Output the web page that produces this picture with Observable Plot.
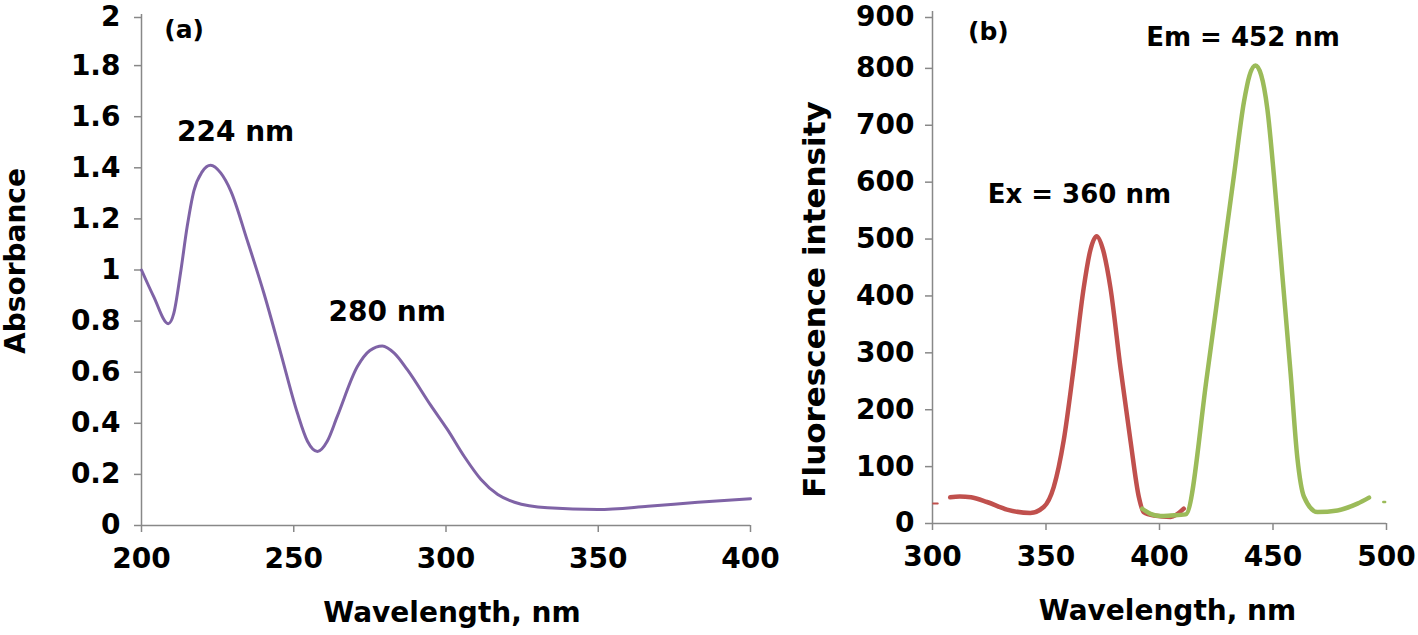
<!DOCTYPE html>
<html>
<head>
<meta charset="utf-8">
<script src="https://cdn.jsdelivr.net/npm/d3@7"></script>
<script src="https://cdn.jsdelivr.net/npm/@observablehq/plot@0.6"></script>
<style>
  html, body { margin: 0; padding: 0; background: white; }
  #wrap { display: flex; flex-wrap: nowrap; width: 1418px; height: 635px; overflow: hidden; }
  #wrap svg { max-width: none; flex: none; }
</style>
</head>
<body>
<div id="wrap"></div>
<script>
// ---------- Panel (a): UV-Vis absorbance ----------
const absWavelength = [200, 204, 208.8, 210.6, 212.8, 215, 217.2, 219.9, 222.7, 226, 229.3, 234.7, 240.2, 245.7, 251.2, 254.5, 257.8, 261, 264.3, 270.9, 275, 279.1, 283, 287.3, 295, 300.5, 306, 311.5, 317, 322.5, 333.4, 349.8, 366.3, 382.7, 400];
const absValue      = [1.0, 0.896, 0.79, 0.83, 0.987, 1.17, 1.31, 1.384, 1.41, 1.38, 1.31, 1.117, 0.909, 0.676, 0.44, 0.33, 0.29, 0.33, 0.427, 0.622, 0.685, 0.703, 0.675, 0.61, 0.47, 0.375, 0.27, 0.18, 0.121, 0.091, 0.069, 0.0625, 0.075, 0.091, 0.105];
const absXTicks = [200, 250, 300, 350, 400];
const absYTicks = [0, 0.2, 0.4, 0.6, 0.8, 1, 1.2, 1.4, 1.6, 1.8, 2];
const absNotes = ["(a)", "224 nm", "280 nm"];
const absNoteX = [214, 230.9, 280.7];
const absNoteY = [1.94, 1.54, 0.837];
const absNoteSize = [25, 28, 28];

// ---------- Panel (b): fluorescence ----------
const exWavelength = [307.8, 312, 317, 324, 332.8, 343.1, 349, 353.4, 357.8, 362.2, 366.6, 369.5, 372.3, 375.2, 378.4, 382.8, 387.2, 390.9, 393, 397.5, 404.9, 410.7];
const exIntensity  = [46, 47.5, 46, 37.8, 24.5, 18.6, 29, 64, 146, 274, 414, 480, 505, 480, 414, 274, 146, 46.6, 20, 14, 11.6, 26];
const exStubWavelength = [300.3, 302.3];
const exStubIntensity  = [35, 35];
const emWavelength = [392.4, 396, 400.5, 405, 411.5, 421, 426.9, 432.8, 437.2, 439.6, 442.3, 444.8, 447.5, 450.4, 454.1, 457.8, 460.7, 463.7, 469.6, 478.4, 487.2, 492.3];
const emIntensity  = [26, 17, 13, 14, 16, 262, 437, 612, 741, 787, 805, 788, 729, 612, 437, 262, 116.6, 46.6, 20, 23, 35, 45.5];
const emStubWavelength = [498.6, 499.4];
const emStubIntensity  = [38, 38];
const flXTicks = [300, 350, 400, 450, 500];
const flYTicks = [0, 100, 200, 300, 400, 500, 600, 700, 800, 900];
const flNotes = ["(b)", "Em = 452 nm", "Ex = 360 nm"];
const flNoteX = [324.6, 436.8, 364.7];
const flNoteY = [863.6, 854.6, 577.5];
const flNoteSize = [25, 26, 26];

const toRows = (xs, ys) => xs.map((x, i) => ({x, y: ys[i]}));
const noteRows = (t, xs, ys, s) => t.map((text, i) => ({text, x: xs[i], y: ys[i], size: s[i]}));

const FONT = "DejaVu Sans";
const GRAY = "#888888";
const PURPLE = "#7F63A6";
const RED = "#C0504D";
const GREEN = "#9BBB59";

const baseStyle = {fontFamily: FONT, fontWeight: "bold", background: "white", overflow: "visible", color: "black"};

function panel({width, marginLeft, marginRight, marginTop, marginBottom, xDomain, yDomain, xTicks, yTicks, yFormat, yPad, topNudge, series, notes, xTitle, yTitle, yTitleSize, xTitleDx, yTitleDx, yTitleDy}) {
  const lowTicks = yTicks.slice(0, -1);
  const topTick = yTicks.slice(-1);
  const textOpts = {tickSize: 7, tickPadding: yPad, tickFormat: yFormat, label: null, fill: "black", fontSize: 28, fontWeight: "bold"};
  const marks = [
    Plot.ruleX([xDomain[0]], {y1: yDomain[0], y2: yDomain[1], stroke: GRAY, strokeWidth: 1.5}),
    Plot.ruleY([yDomain[0]], {x1: xDomain[0], x2: xDomain[1], stroke: GRAY, strokeWidth: 1.5}),
    Plot.axisY({ticks: lowTicks, ...textOpts, stroke: GRAY, strokeWidth: 1.5}),
    Plot.axisY({ticks: topTick, ...textOpts, stroke: GRAY, strokeWidth: 1.5, dy: topNudge}),
    Plot.axisX({ticks: xTicks, tickSize: 7, tickPadding: 16, label: null,
                stroke: GRAY, strokeWidth: 1.5, fill: "black", fontSize: 28, fontWeight: "bold"}),
    ...series.map(s => Plot.line(s.rows, {x: "x", y: "y", stroke: s.color, strokeWidth: s.width, curve: "monotone-x"})),
    ...notes.map(n => Plot.text([n], {x: "x", y: "y", text: "text", fontSize: n.size, fontWeight: "bold", fill: "black"})),
    Plot.text([xTitle], {frameAnchor: "bottom", textAnchor: "middle", dy: 96, dx: xTitleDx, fontSize: 28, fontWeight: "bold", fill: "black"}),
    Plot.text([yTitle], {frameAnchor: "left", textAnchor: "middle", dx: yTitleDx, dy: yTitleDy, rotate: -90, fontSize: yTitleSize, fontWeight: "bold", fill: "black"})
  ];
  return Plot.plot({
    width, height: 635,
    marginLeft, marginRight, marginTop, marginBottom,
    style: baseStyle,
    x: {domain: xDomain, label: null},
    y: {domain: yDomain, label: null},
    marks
  });
}

const a = panel({
  width: 780, marginLeft: 141, marginRight: 30, marginTop: 14, marginBottom: 110,
  xDomain: [200, 400], yDomain: [0, 2],
  xTicks: absXTicks, yTicks: absYTicks, yFormat: d => String(+d.toFixed(1)), yPad: 14, topNudge: 3,
  series: [{rows: toRows(absWavelength, absValue), color: PURPLE, width: 3}],
  notes: noteRows(absNotes, absNoteX, absNoteY, absNoteSize),
  xTitle: "Wavelength, nm", yTitle: "Absorbance", yTitleSize: 28, xTitleDx: 6, yTitleDx: -125, yTitleDy: -9
});

const b = panel({
  width: 638, marginLeft: 152, marginRight: 32, marginTop: 11, marginBottom: 112,
  xDomain: [300, 500], yDomain: [0, 900],
  xTicks: flXTicks, yTicks: flYTicks, yFormat: d => String(d), yPad: 11, topNudge: 6,
  series: [
    {rows: toRows(exStubWavelength, exStubIntensity), color: RED, width: 2},
    {rows: toRows(exWavelength, exIntensity), color: RED, width: 4.5},
    {rows: toRows(emWavelength, emIntensity), color: GREEN, width: 4.5},
    {rows: toRows(emStubWavelength, emStubIntensity), color: GREEN, width: 2.5}
  ],
  notes: noteRows(flNotes, flNoteX, flNoteY, flNoteSize),
  xTitle: "Wavelength, nm", yTitle: "Fluorescence intensity", yTitleSize: 31, xTitleDx: 8, yTitleDx: -117, yTitleDy: 32
});

const wrap = document.getElementById("wrap");
wrap.appendChild(a);
wrap.appendChild(b);
</script>
</body>
</html>
